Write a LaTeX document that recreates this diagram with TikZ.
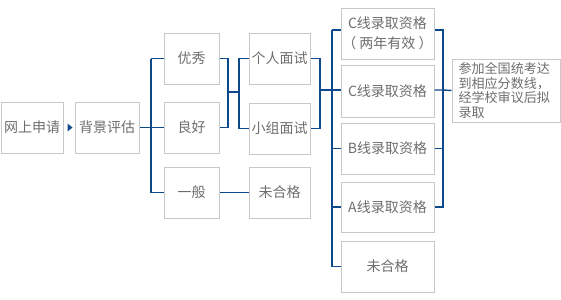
\documentclass[tikz,border=0pt]{standalone}
\usepackage{fontspec}
\setmainfont{Noto Sans CJK SC}
\usetikzlibrary{calc}
\definecolor{linkblue}{HTML}{0D4A8C}
\definecolor{boxgray}{HTML}{C8C8C8}
\definecolor{txtgray}{HTML}{6E6E6E}
\begin{document}
\begin{tikzpicture}[x=0.75pt,y=-0.75pt,
  box/.style={draw=boxgray,line width=0.75pt,fill=white,text=txtgray,
    font=\fontsize{10.5pt}{12pt}\selectfont,inner sep=0pt,align=center},
  link/.style={draw=linkblue,line width=1.05pt}]
\useasboundingbox[fill=white] (0,0) rectangle (561,300);
% nodes
\node[box,minimum width=62*0.75pt,minimum height=51*0.75pt] (a) at (32,127.5) {网上申请};
\node[box,minimum width=64*0.75pt,minimum height=51*0.75pt] (b) at (107,127.5) {背景评估};
\node[box,minimum width=55*0.75pt,minimum height=51*0.75pt] (c1) at (191.5,58.5) {优秀};
\node[box,minimum width=55*0.75pt,minimum height=51*0.75pt] (c2) at (191.5,127.5) {良好};
\node[box,minimum width=55*0.75pt,minimum height=51*0.75pt] (c3) at (191.5,192.5) {一般};
\node[box,minimum width=61*0.75pt,minimum height=51*0.75pt] (d1) at (279.5,58.5) {个人面试};
\node[box,minimum width=61*0.75pt,minimum height=51*0.75pt] (d2) at (279.5,128.5) {小组面试};
\node[box,minimum width=61*0.75pt,minimum height=51*0.75pt] (d3) at (279.5,192.5) {未合格};
\node[box,minimum width=93*0.75pt,minimum height=51*0.75pt,
  font=\fontsize{10.5pt}{15pt}\selectfont] (e1) at (387.5,33.5) {C线录取资格\\（ 两年有效 ）};
\node[box,minimum width=93*0.75pt,minimum height=52*0.75pt] (e2) at (387.5,91) {C线录取资格};
\node[box,minimum width=93*0.75pt,minimum height=51*0.75pt] (e3) at (387.5,148.5) {B线录取资格};
\node[box,minimum width=93*0.75pt,minimum height=50*0.75pt] (e4) at (387.5,207) {A线录取资格};
\node[box,minimum width=93*0.75pt,minimum height=51*0.75pt] (e5) at (387.5,266.5) {未合格};
\node[box,minimum width=108*0.75pt,minimum height=63*0.75pt,align=left,
  font=\fontsize{9.8pt}{10.9pt}\selectfont] (f) at (506,90.5)
  {\parbox{95\dimexpr0.75pt\relax}{\raggedright 参加全国统考达\\到相应分数线，\\经学校审议后拟\\录取}};
% arrow between a and b
\fill[linkblue] ($(a.east)+(4,-4)$) -- ($(a.east)+(9,0)$) -- ($(a.east)+(4,4)$) -- cycle;
% b -> c
\coordinate (jb) at (151,127.5);
\draw[link] (b.east) -- (jb);
\draw[link] (jb |- c1.west) -- (jb |- c3.west);
\draw[link] (jb |- c1.west) -- (c1.west);
\draw[link] (jb) -- (c2.west);
\draw[link] (jb |- c3.west) -- (c3.west);
% c1,c2 -> d1,d2
\coordinate (jc) at (228,92);
\coordinate (jd) at (239,92);
\draw[link] (c1.east) -- (c1.east -| jc) -- (c2.east -| jc) -- (c2.east);
\draw[link] (jc) -- (jd);
\draw[link] (d1.west) -- (d1.west -| jd) -- (d2.west -| jd) -- (d2.west);
\draw[link] (c3.east) -- (d3.west);
% d1,d2 -> e
\coordinate (je) at (320,90);
\coordinate (jf) at (332,90);
\draw[link] (d1.east) -- (d1.east -| je) -- (d2.east -| je) -- (d2.east);
\draw[link] (je) -- (jf);
\coordinate (t1) at (332,30);
\draw[link] (t1) -- (jf |- e5.west);
\draw[link] (t1) -- (t1 -| e1.west);
\draw[link] (jf) -- (jf -| e2.west);
\draw[link] (jf |- e3.west) -- (e3.west);
\draw[link] (jf |- e4.west) -- (e4.west);
\draw[link] (jf |- e5.west) -- (e5.west);
% e -> f
\coordinate (r1) at (443,30);
\coordinate (rf) at (443,90);
\draw[link] (t1 -| e1.east) -- (r1) -- (r1 |- e4.east) -- (e4.east);
\draw[link] (rf -| e2.east) -- (rf) -- (f.west);
\draw[link] (e3.east) -- (e3.east -| rf);
\end{tikzpicture}
\end{document}
